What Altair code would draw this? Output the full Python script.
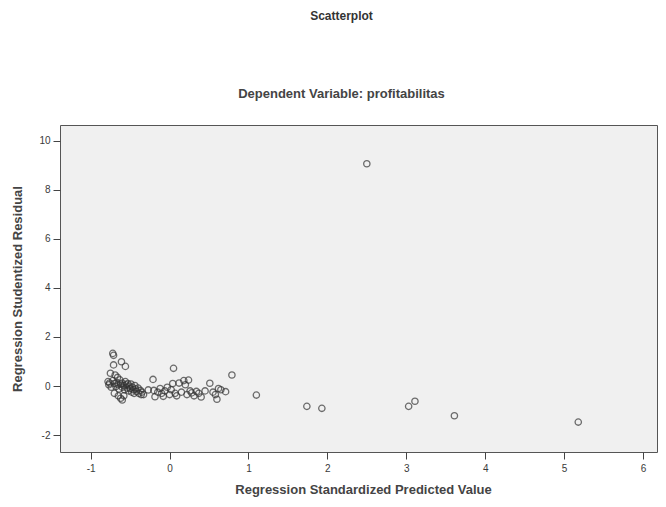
import altair as alt
import pandas as pd

# Regression Standardized Predicted Value (x) and Studentized Residual (y)
pred = [
    -0.72, -0.71, -0.71, -0.61, -0.56, -0.75, -0.69, -0.66,
    -0.78, -0.77, -0.76, -0.74, -0.72, -0.70, -0.68, -0.67, -0.65, -0.64,
    -0.63, -0.62, -0.60, -0.60, -0.58, -0.57, -0.56, -0.55, -0.54, -0.53,
    -0.52, -0.51, -0.50, -0.49, -0.48, -0.47, -0.46, -0.45, -0.44, -0.43,
    -0.42, -0.40, -0.39, -0.37, -0.36, -0.35, -0.33,
    -0.70, -0.65, -0.62, -0.60, -0.58,
    -0.27, -0.21, -0.20, -0.185, -0.15, -0.12, -0.10, -0.08, -0.06, -0.03,
    0.00, 0.02, 0.05, 0.04, 0.07, 0.09, 0.12, 0.15, 0.18, 0.20,
    0.22, 0.24, 0.26, 0.28, 0.31, 0.34, 0.37, 0.40, 0.45, 0.51,
    0.55, 0.58, 0.60, 0.62, 0.65, 0.71, 0.79, 1.10,
    1.74, 1.93, 2.50, 3.03, 3.11, 3.61, 5.18,
]
resid = [
    1.33, 1.25, 0.86, 0.99, 0.80, 0.52, 0.45, 0.35,
    0.18, 0.05, 0.12, -0.05, 0.22, 0.10, -0.02, 0.15, 0.05, -0.12,
    0.25, 0.08, -0.05, 0.12, 0.02, -0.15, 0.18, 0.05, -0.08, 0.10,
    -0.20, 0.00, -0.10, 0.08, -0.25, -0.05, -0.15, -0.30, 0.02, -0.12,
    -0.22, -0.08, -0.30, -0.18, -0.35, -0.25, -0.35,
    -0.30, -0.40, -0.50, -0.57, -0.40,
    -0.16, 0.27, -0.18, -0.44, -0.25, -0.10, -0.30, -0.42, -0.20, -0.05,
    -0.35, -0.15, 0.72, 0.10, -0.30, -0.40, 0.12, -0.25, 0.22, 0.05,
    -0.35, 0.24, -0.20, -0.28, -0.40, -0.22, -0.30, -0.45, -0.20, 0.11,
    -0.25, -0.35, -0.54, -0.10, -0.15, -0.23, 0.45, -0.37,
    -0.83, -0.91, 9.06, -0.83, -0.62, -1.21, -1.47,
]

x_ticks = [-1, 0, 1, 2, 3, 4, 5, 6]
y_ticks = [-2, 0, 2, 4, 6, 8, 10]

df = pd.DataFrame({"pred": pred, "resid": resid})

FONT = "Liberation Sans"
LABEL_EXPR = "'' + datum.value"

chart = (
    alt.Chart(df)
    .mark_point(shape="circle", filled=False, stroke="#333333", strokeWidth=1.3, size=40)
    .encode(
        x=alt.X(
            "pred:Q",
            scale=alt.Scale(domain=[-1.389, 6.178], nice=False, zero=False),
            axis=alt.Axis(
                values=x_ticks,
                labelExpr=LABEL_EXPR,
                title="Regression Standardized Predicted Value",
                titleX=303,
                titleAnchor="start",
                titleAlign="center",
                grid=False,
                domain=False,
                tickSize=7,
                tickColor="#444444",
                labelPadding=4,
                labelFontSize=10,
                labelColor="#3a3a3a",
                titleFontSize=13,
                titleFontWeight="bold",
                titleColor="#444444",
                titlePadding=10,
            ),
        ),
        y=alt.Y(
            "resid:Q",
            scale=alt.Scale(domain=[-2.69, 10.64], nice=False, zero=False),
            axis=alt.Axis(
                values=y_ticks,
                labelExpr=LABEL_EXPR,
                title="Regression Studentized Residual",
                grid=False,
                domain=False,
                tickSize=7,
                tickColor="#444444",
                labelPadding=3,
                labelFontSize=10,
                labelColor="#3a3a3a",
                titleFontSize=13,
                titleFontWeight="bold",
                titleColor="#444444",
                titlePadding=14,
            ),
        ),
    )
    .properties(
        width=597,
        height=327,
        autosize=alt.AutoSizeParams(type="none"),
        padding={"left": 52, "top": 117, "right": 1, "bottom": 47},
        title=alt.TitleParams(
            text="Scatterplot",
            subtitle="Dependent Variable: profitabilitas",
            anchor="middle",
            dx=-17,
            offset=23,
            fontSize=12,
            fontWeight="bold",
            color="#333333",
            subtitleFontSize=13,
            subtitleFontWeight="bold",
            subtitleColor="#444444",
            subtitlePadding=65,
            font=FONT,
            subtitleFont=FONT,
        ),
    )
    .configure(font=FONT)
    .configure_view(fill="#f0f0f0", stroke="#555555", strokeWidth=1)
)

chart.save("out.html", embed_options={"renderer": "svg", "actions": False})
